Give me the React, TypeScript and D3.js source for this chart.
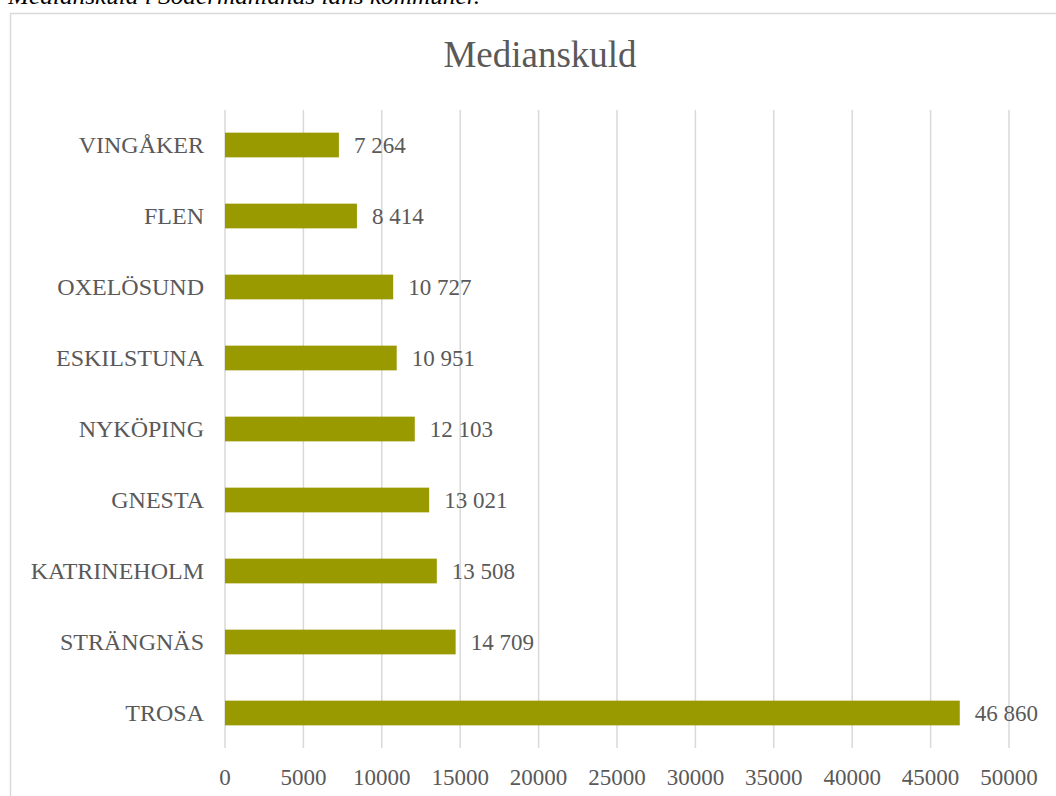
import React from "react";
import * as d3 from "d3";

const categories = [
  "VINGÅKER",
  "FLEN",
  "OXELÖSUND",
  "ESKILSTUNA",
  "NYKÖPING",
  "GNESTA",
  "KATRINEHOLM",
  "STRÄNGNÄS",
  "TROSA",
];
const values = [7264, 8414, 10727, 10951, 12103, 13021, 13508, 14709, 46860];
const tickValues = [0, 5000, 10000, 15000, 20000, 25000, 30000, 35000, 40000, 45000, 50000];
const title = "Medianskuld";
const caption = "Medianskuld i Södermanlands läns kommuner.";

const W = 1056;
const H = 796;
const FONT = "'Liberation Serif', 'Times New Roman', serif";
const TEXT = "#595959";
const GRID = "#d9d9d9";
const BAR = "#999900";

export default function App() {
  const x = d3.scaleLinear().domain([0, 50000]).range([225, 1009]);
  const y = d3
    .scaleBand<string>()
    .domain(categories)
    .range([109.5, 748.5])
    .paddingInner(0.652)
    .paddingOuter(0.326);
  const loc = d3.formatLocale({ decimal: ",", thousands: " ", grouping: [3], currency: ["", " kr"] });
  const fmt = loc.format(",d");
  const bw = y.bandwidth();

  return (
    <svg
      width={W}
      height={H}
      style={{ position: "absolute", left: 0, top: 0, background: "#fff" }}
      fontFamily={FONT}
    >
      <rect x={0} y={0} width={W} height={H} fill="#fff" />
      <text x={8} y={4} fontSize={24} fontStyle="italic" fill="#000" textLength={472} lengthAdjust="spacingAndGlyphs">
        {caption}
      </text>
      <rect x={10.5} y={13.5} width={1080} height={820} fill="none" stroke={GRID} strokeWidth={1.5} />
      <text x={540} y={67} textAnchor="middle" fontSize={37} fill={TEXT}>
        {title}
      </text>
      {tickValues.map((t) => (
        <g key={t}>
          <line x1={x(t)} x2={x(t)} y1={110} y2={748} stroke={GRID} strokeWidth={1.5} />
          <text x={x(t)} y={785} textAnchor="middle" fontSize={23} fill={TEXT}>
            {t}
          </text>
        </g>
      ))}
      {categories.map((c, i) => {
        const yy = y(c)!;
        const cy = yy + bw / 2;
        return (
          <g key={c}>
            <rect x={x(0)} y={yy} width={x(values[i]) - x(0)} height={bw} fill={BAR} />
            <text x={204} y={cy} dy="0.34em" textAnchor="end" fontSize={24} fill={TEXT}>
              {c}
            </text>
            <text x={x(values[i]) + 15} y={cy} dy="0.34em" fontSize={23} fill={TEXT}>
              {fmt(values[i])}
            </text>
          </g>
        );
      })}
    </svg>
  );
}
